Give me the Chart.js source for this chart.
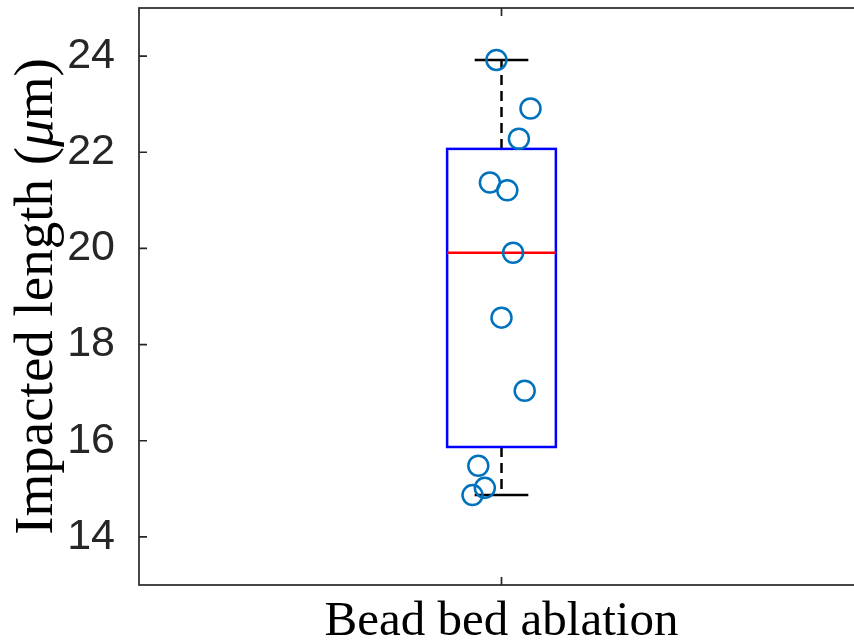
<!DOCTYPE html>
<html>
<head>
<meta charset="utf-8">
<script src="https://cdn.jsdelivr.net/npm/chart.js@4"></script>
<style>
  html, body { margin: 0; padding: 0; background: #fff; overflow: hidden; }
  #wrap { position: absolute; left: 0; top: 0; width: 880px; height: 641px; }
</style>
</head>
<body>
<div id="wrap"><canvas id="chart" width="880" height="641"></canvas></div>
<script>
let categories = ["Bead bed ablation"];
let yTicks = [14, 16, 18, 20, 22, 24];

// box statistics for the one group
let whiskerLow = [14.87];
let q1 = [15.87];
let median = [19.91];
let q3 = [22.07];
let whiskerHigh = [23.92];

// the individual measurements (jittered around the group position)
let jitterX = [0.993, 1.040, 1.024, 0.984, 1.008, 1.016, 1.000, 1.032, 0.968, 0.977, 0.960];
let lengths = [23.92, 22.91, 22.28, 21.37, 21.21, 19.91, 18.56, 17.04, 15.48, 15.02, 14.87];

let axisColor = "#262626";

let boxPlugin = {
    id: "boxPlugin",
    beforeDatasetsDraw(chart) {
        let ctx = chart.ctx;
        let xs = chart.scales.x, ys = chart.scales.y;
        ctx.save();
        for (let i = 0; i < categories.length; i++) {
            let pos = i + 1;
            let xc = xs.getPixelForValue(pos);
            let xl = xs.getPixelForValue(pos - 0.075);
            let xr = xs.getPixelForValue(pos + 0.075);
            let cl = xs.getPixelForValue(pos - 0.037);
            let cr = xs.getPixelForValue(pos + 0.037);

            // whiskers
            ctx.strokeStyle = "#000";
            ctx.lineWidth = 2.5;
            ctx.setLineDash([10, 6]);
            ctx.beginPath();
            ctx.moveTo(xc, ys.getPixelForValue(q3[i]));
            ctx.lineTo(xc, ys.getPixelForValue(whiskerHigh[i]));
            ctx.moveTo(xc, ys.getPixelForValue(q1[i]));
            ctx.lineTo(xc, ys.getPixelForValue(whiskerLow[i]));
            ctx.stroke();
            ctx.setLineDash([]);
            ctx.beginPath();
            ctx.moveTo(cl, ys.getPixelForValue(whiskerHigh[i]));
            ctx.lineTo(cr, ys.getPixelForValue(whiskerHigh[i]));
            ctx.moveTo(cl, ys.getPixelForValue(whiskerLow[i]));
            ctx.lineTo(cr, ys.getPixelForValue(whiskerLow[i]));
            ctx.stroke();

            // box
            ctx.strokeStyle = "rgb(0,0,255)";
            let top = ys.getPixelForValue(q3[i]);
            let bot = ys.getPixelForValue(q1[i]);
            ctx.strokeRect(xl, top, xr - xl, bot - top);

            // median
            ctx.strokeStyle = "rgb(255,0,0)";
            ctx.beginPath();
            ctx.moveTo(xl, ys.getPixelForValue(median[i]));
            ctx.lineTo(xr, ys.getPixelForValue(median[i]));
            ctx.stroke();
        }
        ctx.restore();
    },
    afterDraw(chart) {
        let ctx = chart.ctx;
        let a = chart.chartArea;
        let xs = chart.scales.x, ys = chart.scales.y;
        ctx.save();
        ctx.strokeStyle = axisColor;
        ctx.lineWidth = 1.7;
        ctx.strokeRect(a.left, a.top, a.right - a.left, a.bottom - a.top);

        // inward ticks
        ctx.beginPath();
        yTicks.forEach(v => {
            let y = ys.getPixelForValue(v);
            ctx.moveTo(a.left, y);
            ctx.lineTo(a.left + 8, y);
            ctx.moveTo(a.right, y);
            ctx.lineTo(a.right - 8, y);
        });
        categories.forEach((c, i) => {
            let x = xs.getPixelForValue(i + 1);
            ctx.moveTo(x, a.bottom);
            ctx.lineTo(x, a.bottom - 8);
            ctx.moveTo(x, a.top);
            ctx.lineTo(x, a.top + 8);
        });
        ctx.stroke();

        // category label
        ctx.fillStyle = "#000";
        ctx.font = "49px 'Liberation Serif'";
        ctx.textAlign = "center";
        ctx.textBaseline = "alphabetic";
        categories.forEach((c, i) => {
            ctx.fillText(c, xs.getPixelForValue(i + 1), 635);
        });

        // y axis title, mu in italic
        let parts = [["Impacted length (", ""], ["\u03bc", "italic "], ["m)", ""]];
        let total = 0;
        parts.forEach(p => {
            ctx.font = p[1] + "55px 'Liberation Serif'";
            p.push(ctx.measureText(p[0]).width);
            total += p[2];
        });
        ctx.translate(52, (a.top + a.bottom) / 2);
        ctx.rotate(-Math.PI / 2);
        ctx.textAlign = "left";
        let x0 = -total / 2;
        parts.forEach(p => {
            ctx.font = p[1] + "55px 'Liberation Serif'";
            ctx.fillText(p[0], x0, 0);
            x0 += p[2];
        });
        ctx.restore();
    }
};

new Chart(document.getElementById("chart"), {
    type: "scatter",
    data: {
        datasets: [{
            data: lengths.map((v, i) => ({ x: jitterX[i], y: v })),
            pointRadius: 10,
            pointHoverRadius: 10,
            borderWidth: 2.5,
            borderColor: "#0072BD",
            backgroundColor: "rgba(0,0,0,0)",
            clip: false
        }]
    },
    options: {
        responsive: false,
        animation: false,
        layout: { autoPadding: false, padding: { left: 0, top: 8, right: 16, bottom: 0 } },
        plugins: { legend: { display: false }, tooltip: { enabled: false } },
        scales: {
            x: {
                type: "linear",
                min: 0.5,
                max: 1.5,
                grid: { display: false },
                border: { display: false },
                ticks: { display: false },
                afterFit(scale) {
                    scale.height = 56;
                    scale.paddingLeft = 0;
                    scale.paddingRight = 0;
                }
            },
            y: {
                min: 13,
                max: 25,
                grid: { display: false },
                border: { display: false },
                afterBuildTicks(scale) { scale.ticks = yTicks.map(v => ({ value: v })); },
                afterFit(scale) {
                    scale.width = 139;
                    scale.paddingTop = 0;
                    scale.paddingBottom = 0;
                },
                ticks: {
                    padding: 16,
                    color: axisColor,
                    font: { family: "'Liberation Sans'", size: 43 }
                }
            }
        }
    },
    plugins: [boxPlugin]
});
</script>
</body>
</html>
